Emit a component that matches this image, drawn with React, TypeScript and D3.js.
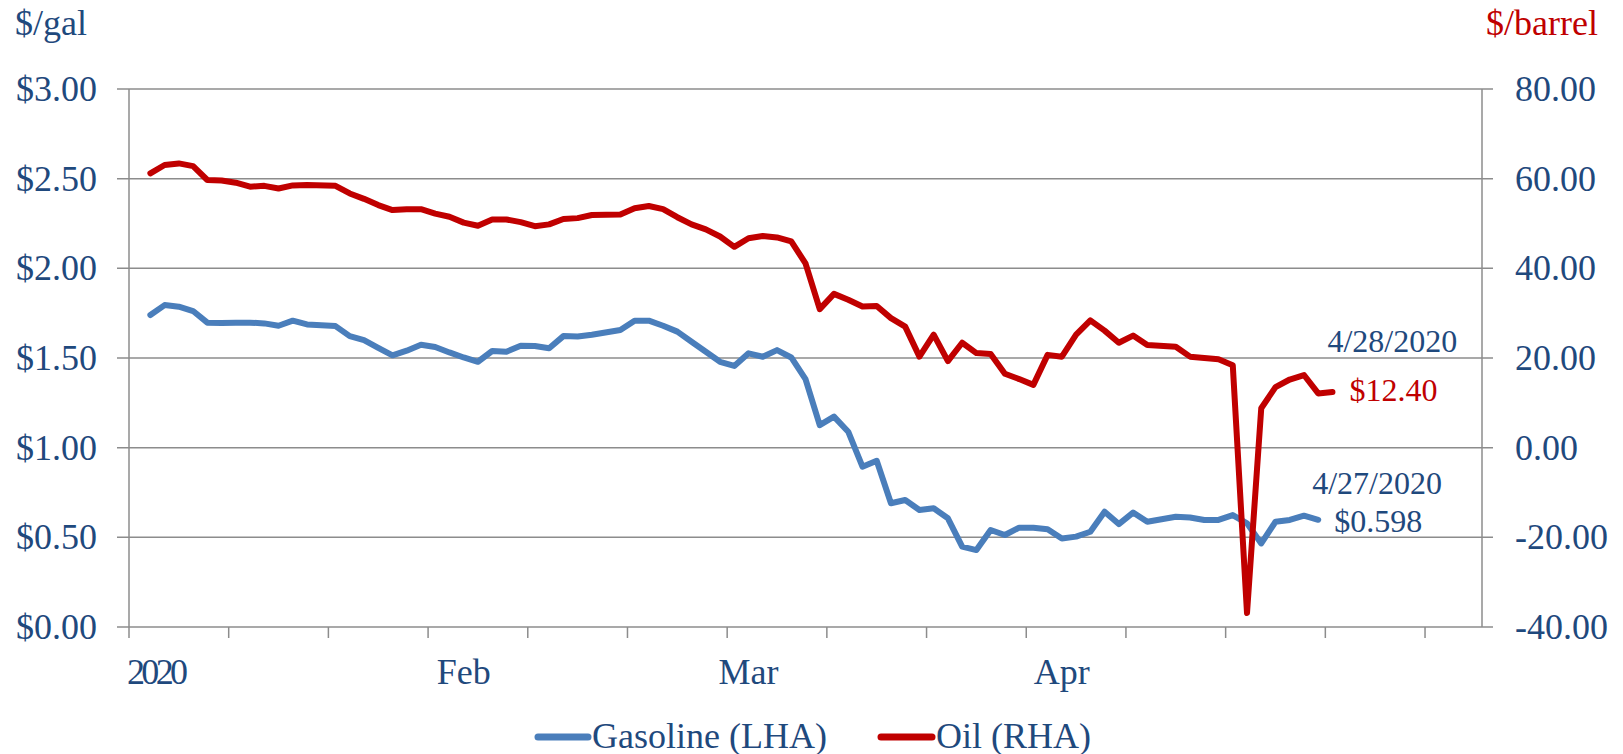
import React from "react";
import * as d3 from "d3";

// weekday slots, Jan 1 2020 .. May 12 2020 (95 slots, holidays left null)
const slotFrom = new Date(2020, 0, 1);
const slotTo = new Date(2020, 4, 13);

// $/gal, one value per weekday slot (Jan 1 .. Apr 27)
const gasoline: (number | null)[] = [
  null, 1.74, 1.795, 1.786, 1.762, 1.697, 1.695, 1.697,
  1.697, 1.693, 1.68, 1.708, 1.687,
  null, 1.678, 1.622, 1.6, 1.557,
  1.515, 1.541, 1.574, 1.561, 1.531,
  1.503, 1.479, 1.539, 1.535, 1.568,
  1.567, 1.554, 1.622, 1.62, 1.63,
  null, 1.656, 1.708, 1.708, 1.68,
  1.647, 1.591, 1.535, 1.479, 1.456,
  1.526, 1.507, 1.544, 1.503, 1.382,
  1.126, 1.173, 1.089, 0.894, 0.927,
  0.69, 0.708, 0.652, 0.662, 0.606,
  0.448, 0.429, 0.541, 0.513, 0.554,
  0.554, 0.545, 0.494, 0.504, 0.531,
  0.643, 0.574, 0.638, 0.587, null,
  0.615, 0.611, 0.597, 0.597, 0.624,
  0.578, 0.466, 0.587, 0.597, 0.621,
  0.598,
];

// $/barrel, one value per weekday slot (Jan 1 .. Apr 28)
const oil: (number | null)[] = [
  null, 61.2, 63.05, 63.4, 62.8, 59.7, 59.6, 59.1,
  58.2, 58.4, 57.8, 58.5, 58.6,
  null, 58.4, 56.7, 55.5, 54.1,
  53.0, 53.2, 53.2, 52.2, 51.5,
  50.2, 49.5, 50.9, 50.9, 50.3,
  49.4, 49.8, 51.0, 51.2, 51.9,
  null, 52.0, 53.4, 53.9, 53.2,
  51.4, 49.8, 48.7, 47.1, 44.8,
  46.7, 47.2, 46.9, 46.0, 41.1,
  30.9, 34.3, 33.0, 31.5, 31.6,
  28.9, 27.0, 20.3, 25.2, 19.3,
  23.4, 21.1, 20.9, 16.5, 15.3,
  14.0, 20.7, 20.3, 25.2, 28.4,
  26.1, 23.4, 25.0, 22.9, null,
  22.5, 20.3, 20.0, 19.7, 18.4,
  -36.9, 8.8, 13.5, 15.2, 16.2,
  12.1, 12.4,
];

const leftTicks = [0, 0.5, 1, 1.5, 2, 2.5, 3];
const rightTicks = [-40, -20, 0, 20, 40, 60, 80];
const monthNames = ["Feb", "Mar", "Apr"];
const seriesNames = ["Gasoline (LHA)", "Oil (RHA)"];
const lastLabels = ["4/27/2020", "4/28/2020"];

const BLUE = "#4a7ebb";
const RED = "#c00000";
const TEXT = "#1f497d";
const GRID = "#8c8c8c";
const FONT = "'Liberation Serif', 'Times New Roman', serif";

export default function App() {
  const W = 1623, H = 754;
  const left = 129, right = 1482, top = 89, bottom = 627;

  const slots = d3.timeDay.range(slotFrom, slotTo).filter((d) => d.getDay() % 6 !== 0);
  const x = d3.scaleBand<number>().domain(d3.range(slots.length)).range([left, right]);
  const cx = (i: number) => (x(i) as number) + x.bandwidth() / 2;
  const yL = d3.scaleLinear().domain([0, 3]).range([bottom, top]);
  const yR = d3.scaleLinear().domain([-40, 80]).range([bottom, top]);

  const pts = (arr: (number | null)[], y: d3.ScaleLinear<number, number>) =>
    arr
      .map((v, i) => (v == null ? null : ([cx(i), y(v)] as [number, number])))
      .filter((p): p is [number, number] => p !== null);

  const line = d3.line<[number, number]>();
  const gasPts = pts(gasoline, yL);
  const oilPts = pts(oil, yR);
  const gasLast = gasPts[gasPts.length - 1];
  const oilLast = oilPts[oilPts.length - 1];

  const tickSlots = d3.range(0, slots.length, 7);
  const monthSlots = monthNames.map((_, k) =>
    slots.findIndex((d) => d.getMonth() === k + 1)
  );

  return (
    <div style={{ position: "fixed", left: 0, top: 0 }}>
      <svg width={W} height={H} style={{ display: "block", background: "#fff" }} fontFamily={FONT}>
        {/* grid + axis ticks */}
        {leftTicks.map((t) => (
          <line key={t} x1={left - 12} x2={right + 11} y1={yL(t)} y2={yL(t)} stroke={GRID} strokeWidth={1.5} />
        ))}
        <line x1={left} x2={left} y1={top} y2={bottom} stroke={GRID} strokeWidth={1.5} />
        <line x1={right} x2={right} y1={top} y2={bottom} stroke={GRID} strokeWidth={1.5} />
        {tickSlots.map((i) => (
          <line key={i} x1={x(i)} x2={x(i)} y1={bottom} y2={bottom + 11} stroke={GRID} strokeWidth={1.5} />
        ))}

        {/* left axis */}
        <text x={15} y={35} fontSize={36} fill={TEXT}>$/gal</text>
        {leftTicks.map((t) => (
          <text key={t} x={97} y={yL(t) + 12} fontSize={36} fill={TEXT} textAnchor="end">
            {"$" + t.toFixed(2)}
          </text>
        ))}

        {/* right axis */}
        <text x={1598} y={35} fontSize={36} fill={RED} textAnchor="end">$/barrel</text>
        {rightTicks.map((t) => (
          <text key={t} x={1515} y={yR(t) + 12} fontSize={36} fill={TEXT}>
            {t.toFixed(2)}
          </text>
        ))}

        {/* x labels */}
        <text x={left - 2} y={684} fontSize={36} fill={TEXT} textLength={61} lengthAdjust="spacing">
          2020
        </text>
        {monthNames.map((m, k) => (
          <text key={m} x={cx(monthSlots[k])} y={684} fontSize={36} fill={TEXT} textAnchor="middle">
            {m}
          </text>
        ))}

        {/* series */}
        <path d={line(gasPts) || ""} fill="none" stroke={BLUE} strokeWidth={6} strokeLinejoin="round" strokeLinecap="round" />
        <path d={line(oilPts) || ""} fill="none" stroke={RED} strokeWidth={6} strokeLinejoin="round" strokeLinecap="round" />

        {/* end labels */}
        <text x={oilLast[0] - 5} y={oilLast[1] - 40} fontSize={32} fill={TEXT}>{lastLabels[1]}</text>
        <text x={oilLast[0] + 17} y={oilLast[1] + 9} fontSize={32} fill={RED}>
          {"$" + (oil[oil.length - 1] as number).toFixed(2)}
        </text>
        <text x={gasLast[0] - 6} y={gasLast[1] - 26} fontSize={32} fill={TEXT}>{lastLabels[0]}</text>
        <text x={gasLast[0] + 16} y={gasLast[1] + 12} fontSize={32} fill={TEXT}>
          {"$" + (gasoline[gasoline.length - 1] as number).toFixed(3)}
        </text>

        {/* legend */}
        <line x1={538} x2={588} y1={737} y2={737} stroke={BLUE} strokeWidth={7} strokeLinecap="round" />
        <text x={592} y={748} fontSize={36} fill={TEXT}>{seriesNames[0]}</text>
        <line x1={881} x2={932} y1={737} y2={737} stroke={RED} strokeWidth={7} strokeLinecap="round" />
        <text x={936} y={748} fontSize={36} fill={TEXT}>{seriesNames[1]}</text>
      </svg>
    </div>
  );
}
